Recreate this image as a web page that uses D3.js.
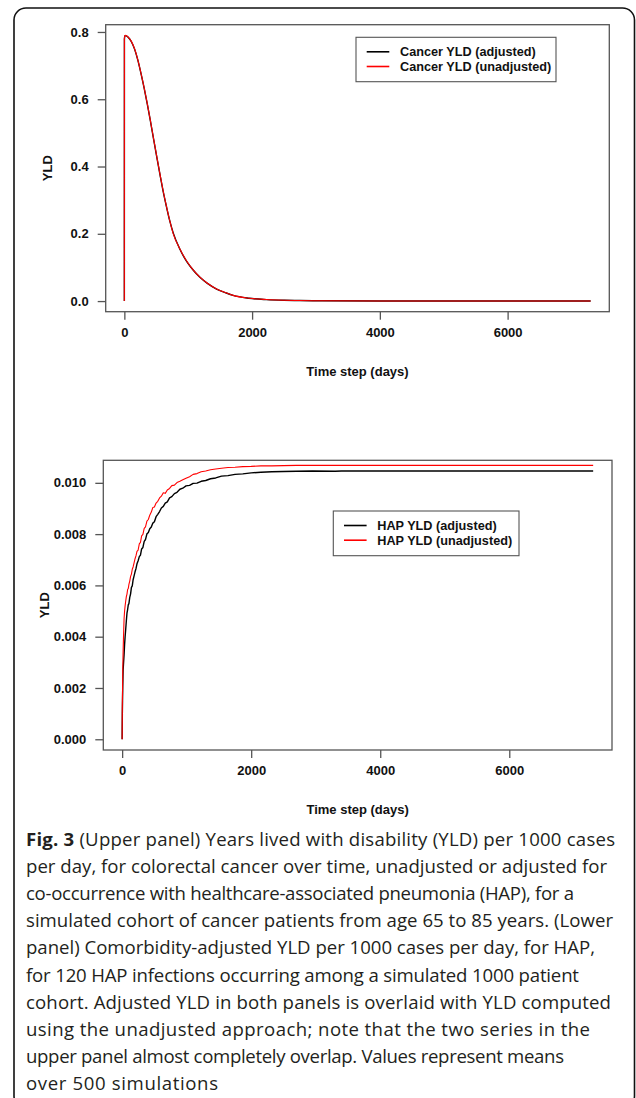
<!DOCTYPE html>
<html><head><meta charset="utf-8">
<script src="https://cdn.jsdelivr.net/npm/d3@7"></script>
<style>
html,body{margin:0;padding:0;background:#fff;}
svg{display:block;}
</style></head>
<body>
<svg id="chart" width="636" height="1098"></svg>
<script>
// ---------- DATA ----------
// Upper panel: colorectal cancer YLD
const cancerDays = [0,1,8,16,35,60,110,160,210,260, 310,360,410,460,510,560,610,660,710,766, 870,975,1080,1183,1300,1444,1580,1703,1950,2225, 2500,2745,3100,4000,5000,6000,7300];
const cancerAdjusted = [0,0.779,0.788,0.789,0.788,0.784,0.771,0.749,0.717,0.677, 0.633,0.585,0.533,0.479,0.426,0.374,0.324,0.280,0.239,0.202, 0.154,0.118,0.0915,0.0705,0.0525,0.0357,0.0252,0.0168,0.0084,0.0044, 0.0024,0.0015,0.0008,0,0,0,0];
const cancerUnadjusted = [0,0.780,0.789,0.790,0.789,0.785,0.772,0.750,0.718,0.678, 0.634,0.586,0.534,0.480,0.427,0.375,0.325,0.281,0.240,0.200, 0.155,0.119,0.092,0.071,0.053,0.036,0.0255,0.017,0.0085,0.0045, 0.0025,0.0015,0.0008,0,0,0,0];

// Lower panel: HAP YLD
const hapDays = [0,3,6,10,15,20,25,30,38,46, 55,65,75,85,95,105,118,131,144,157, 170,185,200,215,230,248,266,284,302,322, 342,362,384,406,428,452,476,500,526,552, 580,608,638,668,700,735,770,810,850,895, 940,990,1045,1100,1160,1225,1295,1370,1450,1540, 1640,1750,1870,2000,2150,2320,2500,2700,2950,3300, 3400,4000,5000,6000,7300];
const hapAdjusted = [0,0.0010,0.0015,0.0021,0.0027,0.0029,0.0031,0.0033,0.0037,0.0040,
  0.00428,0.00461,0.00492,0.00506,0.00524,0.00529,0.00553,0.00567,0.00592,0.00598,
  0.00622,0.00637,0.00653,0.00666,0.00684,0.00696,0.00712,0.00718,0.00742,0.00748,
  0.00772,0.00779,0.00801,0.00806,0.00821,0.00828,0.00843,0.00848,0.00868,0.00877,
  0.00888,0.00902,0.00908,0.00921,0.00926,0.00941,0.00946,0.00958,0.00963,0.00975,
  0.00979,0.00988,0.00990,0.00998,0.00999,0.01006,0.01009,0.01016,0.01019,0.01026,
  0.01028,0.01033,0.01035,0.01039,0.01041,0.01043,0.01044,0.01045,0.01046,0.01045,
  0.01046,0.01046,0.01046,0.01046,0.01046];
const hapUnadjusted = [0,0.0013,0.0019,0.0028,0.0034,0.0039,0.0043,0.0047,0.0050,0.0052,
  0.00538,0.00556,0.00566,0.00584,0.00588,0.00604,0.00617,0.00635,0.00644,0.00663,
  0.00672,0.00688,0.00704,0.00716,0.00733,0.00738,0.00762,0.00768,0.00793,0.00799,
  0.00822,0.00828,0.00851,0.00857,0.00874,0.00886,0.00904,0.00906,0.00921,0.00928,
  0.00941,0.00948,0.00961,0.00959,0.00972,0.00978,0.00989,0.00991,0.01001,0.01006,
  0.01012,0.01018,0.01024,0.01033,0.01036,0.01043,0.01046,0.01051,0.01054,0.01057,
  0.01060,0.01061,0.01063,0.01064,0.01066,0.01066,0.01067,0.01068,0.01068,0.01068,
  0.01068,0.01068,0.01068,0.01068,0.01068];

const xTicks = [0,2000,4000,6000];
const upperYTicks = [0,0.2,0.4,0.6,0.8];
const lowerYTicks = [0,0.002,0.004,0.006,0.008,0.010];
const xTitle = "Time step (days)";
const yTitle = "YLD";
const upperLegend = ["Cancer YLD (adjusted)","Cancer YLD (unadjusted)"];
const lowerLegend = ["HAP YLD (adjusted)","HAP YLD (unadjusted)"];
const seriesColors = ["#000000","#ff0000"];

const captionBold = "Fig. 3";
const captionLines = [
 " (Upper panel) Years lived with disability (YLD) per 1000 cases",
 "per day, for colorectal cancer over time, unadjusted or adjusted for",
 "co-occurrence with healthcare-associated pneumonia (HAP), for a",
 "simulated cohort of cancer patients from age 65 to 85 years. (Lower",
 "panel) Comorbidity-adjusted YLD per 1000 cases per day, for HAP,",
 "for 120 HAP infections occurring among a simulated 1000 patient",
 "cohort. Adjusted YLD in both panels is overlaid with YLD computed",
 "using the unadjusted approach; note that the two series in the",
 "upper panel almost completely overlap. Values represent means",
 "over 500 simulations"
];
const captionLineEnds = [615,607,574,613,595,579,611,590,564,218];

// ---------- DRAW ----------
const svg = d3.select("#chart");
const FONT = "'Liberation Sans', Arial, sans-serif";
const axisCol = "#555";

// outer frame (rounded, bottom off-page)
svg.append("rect").attr("x",14).attr("y",8).attr("width",620.5).attr("height",1100)
  .attr("rx",12).attr("ry",12).attr("fill","none").attr("stroke","#111").attr("stroke-width",1.6);

function expand(ext){ const d = (ext[1]-ext[0])*0.04; return [ext[0]-d, ext[1]+d]; }

function panel(opts){
  const {box, days, series, yTicks, yFmt, legend, legBox, curve, yTitleX, yRangeSeries} = opts;
  const g = svg.append("g");
  const x = d3.scaleLinear().domain(expand(d3.extent(days))).range([box.l, box.r]);
  const y = d3.scaleLinear().domain(expand([0, d3.max(yRangeSeries)])).range([box.b, box.t]);

  const line = d3.line().x((d,i)=>x(days[i])).y(d=>y(d)).curve(curve);
  series.forEach((s,k)=>{
    g.append("path").datum(s).attr("d",line).attr("fill","none")
      .attr("stroke",seriesColors[k]).attr("stroke-width",k===0?1.4:1.1)
      .attr("stroke-linejoin","round");
  });

  g.append("rect").attr("x",box.l).attr("y",box.t).attr("width",box.r-box.l).attr("height",box.b-box.t)
    .attr("fill","none").attr("stroke",axisCol).attr("stroke-width",1.3);

  const xAxis = d3.axisBottom(x).tickValues(xTicks).tickSize(8).tickSizeOuter(0).tickPadding(8).tickFormat(d3.format("d"));
  const xa = g.append("g").attr("transform",`translate(0,${box.b})`).call(xAxis);
  xa.select(".domain").remove();
  xa.selectAll("line").attr("stroke",axisCol).attr("stroke-width",1.3);
  xa.selectAll("text").attr("font-family",FONT).attr("font-weight","bold").attr("font-size",13).attr("fill","#111");

  const yAxis = d3.axisLeft(y).tickValues(yTicks).tickSize(8).tickSizeOuter(0).tickPadding(9).tickFormat(d3.format(yFmt));
  const ya = g.append("g").attr("transform",`translate(${box.l},0)`).call(yAxis);
  ya.select(".domain").remove();
  ya.selectAll("line").attr("stroke",axisCol).attr("stroke-width",1.3);
  ya.selectAll("text").attr("font-family",FONT).attr("font-weight","bold").attr("font-size",13).attr("fill","#111");

  g.append("text").attr("x",(box.l+box.r)/2).attr("y",box.b+64).attr("text-anchor","middle")
    .attr("font-family",FONT).attr("font-weight","bold").attr("font-size",13).attr("fill","#111").text(xTitle);
  g.append("text").attr("transform",`translate(${yTitleX},${(box.t+box.b)/2}) rotate(-90)`)
    .attr("text-anchor","middle").attr("font-family",FONT).attr("font-weight","bold").attr("font-size",13).attr("fill","#111").text(yTitle);

  g.append("rect").attr("x",legBox.x).attr("y",legBox.y).attr("width",legBox.w).attr("height",legBox.h)
    .attr("fill","#fff").attr("stroke",axisCol).attr("stroke-width",1.1);
  legend.forEach((t,k)=>{
    const ly = legBox.y + 14.5 + k*14.7;
    g.append("line").attr("x1",legBox.x+10.7).attr("x2",legBox.x+33.3).attr("y1",ly).attr("y2",ly)
      .attr("stroke",seriesColors[k]).attr("stroke-width",1.6);
    g.append("text").attr("x",legBox.x+44).attr("y",ly+4.5).attr("font-family",FONT).attr("font-weight","bold")
      .attr("font-size",12.7).attr("fill","#111").text(t);
  });
}

panel({
  box:{l:105.7,r:609.3,t:24.7,b:311.7},
  days:cancerDays, series:[cancerAdjusted,cancerUnadjusted], yRangeSeries:cancerUnadjusted,
  yTicks:upperYTicks, yFmt:".1f", legend:upperLegend,
  legBox:{x:356,y:37.3,w:200,h:44.4}, curve:d3.curveMonotoneX, yTitleX:52
});
panel({
  box:{l:103.3,r:612,t:460.3,b:750},
  days:hapDays, series:[hapAdjusted,hapUnadjusted], yRangeSeries:hapAdjusted,
  yTicks:lowerYTicks, yFmt:".3f", legend:lowerLegend,
  legBox:{x:333.3,y:511,w:185.7,h:44.7}, curve:d3.curveLinear, yTitleX:49
});

// caption
const cap = svg.append("g").attr("font-family","'Open Sans', 'Noto Sans', sans-serif").attr("fill","#231f20").attr("font-size",18.6);
captionLines.forEach((t,i)=>{
  const tx = cap.append("text").attr("x",26).attr("y",846 + i*27.1)
    .attr("textLength", captionLineEnds[i]-26).attr("lengthAdjust","spacing");
  if(i===0){ tx.append("tspan").attr("font-weight","bold").text(captionBold); }
  tx.append("tspan").text(t);
});
</script>
</body></html>
